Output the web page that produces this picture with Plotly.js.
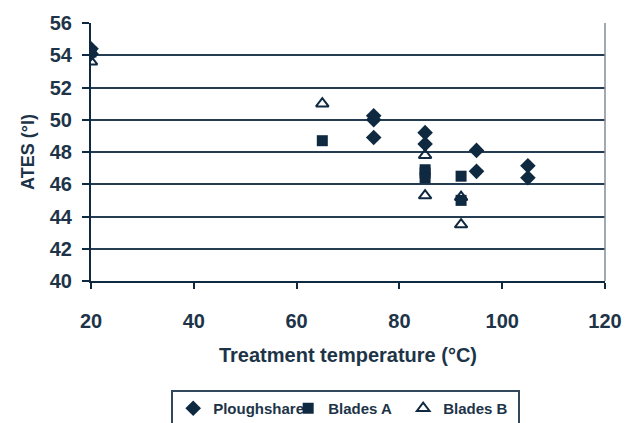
<!DOCTYPE html>
<html>
<head>
<meta charset="utf-8">
<script src="https://cdn.plot.ly/plotly-3.0.1.min.js"></script>
<style>html,body{margin:0;padding:0;background:#fff;}#chart{width:629px;height:423px;}</style>
</head>
<body>
<div id="chart"></div>
<script>
// Data
const ploughshareX = [20, 20, 75, 75, 75, 85, 85, 95, 95, 105, 105];
const ploughshareY = [54.4, 54.1, 50.25, 50.0, 48.9, 49.2, 48.5, 48.1, 46.8, 47.15, 46.4];
const bladesAX = [20, 65, 85, 85, 85, 92, 92];
const bladesAY = [54.2, 48.7, 46.9, 46.7, 46.4, 46.5, 45.0];
const bladesBX = [20, 65, 85, 85, 92, 92];
const bladesBY = [53.6, 51.0, 47.8, 45.3, 45.2, 43.5];
const xTicks = [20, 40, 60, 80, 100, 120];
const yTicks = [40, 42, 44, 46, 48, 50, 52, 54, 56];

const navy = '#0f2a40';
const txt = '#1d3448';

const traces = [
  {x: ploughshareX, y: ploughshareY, type: 'scatter', mode: 'markers', name: 'Ploughshare',
   marker: {symbol: 'diamond', size: 12, color: navy}},
  {x: bladesAX, y: bladesAY, type: 'scatter', mode: 'markers', name: 'Blades A',
   marker: {symbol: 'square', size: 11, color: navy}},
  {x: bladesBX, y: bladesBY, type: 'scatter', mode: 'markers', name: 'Blades B',
   marker: {symbol: 'triangle-up-open', size: 11, color: navy, line: {width: 2, color: navy}}}
];

const layout = {
  width: 629, height: 423,
  margin: {l: 91, r: 24, t: 23, b: 142, autoexpand: false},
  paper_bgcolor: '#ffffff', plot_bgcolor: '#ffffff',
  font: {family: 'Liberation Sans, Arial, sans-serif', color: txt},
  showlegend: true,
  xaxis: {
    range: [20, 120], tickvals: xTicks, ticktext: xTicks.map(String),
    showgrid: false, zeroline: false,
    showline: true, linecolor: navy, linewidth: 2, mirror: false,
    ticks: 'outside', ticklen: 6, tickwidth: 2, tickcolor: navy,
    tickfont: {size: 20, weight: 'bold', color: txt},
    ticklabelstandoff: 15,
    title: {text: 'Treatment temperature (°C)', font: {size: 20, weight: 'bold', color: txt}, standoff: 17},
    automargin: false, fixedrange: true
  },
  yaxis: {
    range: [40, 56], tickvals: yTicks, ticktext: yTicks.map(String),
    showgrid: true, gridcolor: '#243d52', gridwidth: 2, zeroline: false,
    showline: true, linecolor: navy, linewidth: 2,
    ticks: 'outside', ticklen: 7, tickwidth: 2, tickcolor: navy,
    tickfont: {size: 20, weight: 'bold', color: txt},
    ticklabelstandoff: 6,
    title: {text: 'ATES (°I)', font: {size: 18, weight: 'bold', color: txt}, standoff: 10},
    automargin: false, fixedrange: true
  },
  shapes: [
    {type: 'line', xref: 'paper', yref: 'paper', x0: 1, x1: 1, y0: 0, y1: 1,
     line: {color: '#7f8e9a', width: 1.5}}
  ],
  legend: {
    orientation: 'h', x: 0.156, xanchor: 'left', y: -0.4225, yanchor: 'top',
    bordercolor: '#33485a', borderwidth: 2, bgcolor: '#ffffff',
    font: {size: 15, weight: 'bold', color: txt},
    entrywidth: 70, itemwidth: 30
  }
};

Plotly.newPlot('chart', traces, layout, {displayModeBar: false, staticPlot: true});
</script>
</body>
</html>
